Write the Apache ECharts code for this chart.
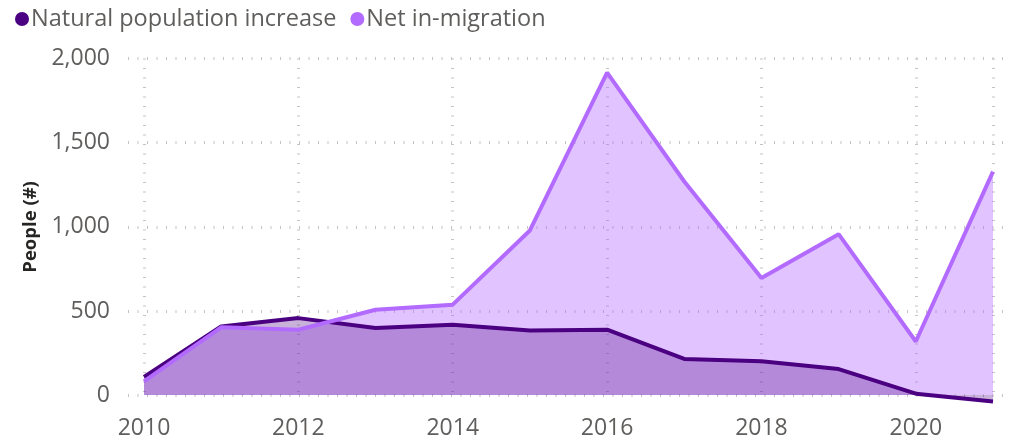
<!DOCTYPE html>
<html>
<head>
<meta charset="utf-8">
<script src="https://cdn.jsdelivr.net/npm/echarts@6/dist/echarts.min.js"></script>
<style>
  html, body { margin: 0; padding: 0; background: #fff; }
  #chart { width: 1019px; height: 440px; }
</style>
</head>
<body>
<div id="chart"></div>
<script>
// data
var years = [2010, 2011, 2012, 2013, 2014, 2015, 2016, 2017, 2018, 2019, 2020, 2021];
var naturalIncrease = [107, 407, 457, 398, 418, 384, 388, 214, 200, 154, 8, -38];
var netMigration = [81, 402, 388, 507, 537, 978, 1916, 1269, 695, 956, 318, 1328];
var seriesNames = ['Natural population increase', 'Net in-migration'];

var darkColor = '#4b0082';
var lightColor = '#b36bff';
var font = 'Open Sans';

function pairs(vals) {
    return years.map(function (y, i) { return [y, vals[i]]; });
}

var gridLine = {
    color: '#c4c4c4',
    width: 3,
    type: [1, 8.5]
};

var myChart = echarts.init(document.getElementById('chart'));
var option = {
    animation: false,
    textStyle: { fontFamily: font },
    legend: {
        left: 10,
        top: 2,
        icon: 'circle',
        itemWidth: 14,
        itemHeight: 14,
        itemGap: 14,
        data: seriesNames,
        textStyle: { color: '#605e5c', fontSize: 23.5, fontFamily: font, padding: [0, 0, 0, -3] }
    },
    grid: [
        // grid for horizontal gridlines + y labels (wider)
        { left: 128, right: 9, top: 58.5, bottom: 44.7 },
        // grid for data
        { left: 144, right: 26, top: 58.5, bottom: 44.7 }
    ],
    xAxis: [
        { gridIndex: 0, type: 'value', min: 0, max: 1, show: false },
        {
            gridIndex: 1,
            type: 'value',
            min: 2010,
            max: 2021,
            interval: 2,
            axisLine: { show: false },
            axisTick: { show: false },
            axisLabel: {
                color: '#605e5c',
                fontSize: 23,
                margin: 22,
                showMaxLabel: false,
                formatter: function (v) { return v % 2 === 0 ? String(v) : ''; }
            },
            splitLine: { show: true, lineStyle: gridLine }
        }
    ],
    yAxis: [
        {
            gridIndex: 0,
            type: 'value',
            min: 0,
            max: 2000,
            interval: 500,
            name: 'People (#)',
            nameLocation: 'middle',
            nameGap: 84,
            nameTextStyle: { color: '#252423', fontSize: 18.5, fontWeight: 'bold', fontFamily: font },
            axisLine: { show: false },
            axisTick: { show: false },
            axisLabel: {
                color: '#605e5c',
                fontSize: 23,
                margin: 18,
                formatter: function (v) { return v.toLocaleString('en-US'); }
            },
            splitLine: { show: true, lineStyle: gridLine }
        },
        { gridIndex: 1, type: 'value', min: 0, max: 2000, interval: 500, show: false }
    ],
    series: [
        {
            name: seriesNames[1],
            type: 'line',
            xAxisIndex: 1,
            yAxisIndex: 1,
            data: pairs(netMigration),
            showSymbol: false,
            clip: false,
            itemStyle: { color: lightColor },
            lineStyle: { width: 0 },
            areaStyle: { color: lightColor, opacity: 0.4 },
            z: 2
        },
        {
            name: seriesNames[0],
            type: 'line',
            xAxisIndex: 1,
            yAxisIndex: 1,
            data: pairs(naturalIncrease),
            showSymbol: false,
            clip: false,
            itemStyle: { color: darkColor },
            lineStyle: { width: 0 },
            areaStyle: { color: darkColor, opacity: 0.3 },
            z: 3
        },
        {
            name: seriesNames[0],
            type: 'line',
            xAxisIndex: 1,
            yAxisIndex: 1,
            data: pairs(naturalIncrease),
            showSymbol: false,
            clip: false,
            itemStyle: { color: darkColor },
            lineStyle: { width: 4, color: darkColor },
            z: 4
        },
        {
            name: seriesNames[1],
            type: 'line',
            xAxisIndex: 1,
            yAxisIndex: 1,
            data: pairs(netMigration),
            showSymbol: false,
            clip: false,
            itemStyle: { color: lightColor },
            lineStyle: { width: 4, color: lightColor },
            z: 5
        }
    ]
};
myChart.setOption(option);
window.addEventListener('resize', function () {
    myChart.resize();
});
</script>
</body>
</html>
